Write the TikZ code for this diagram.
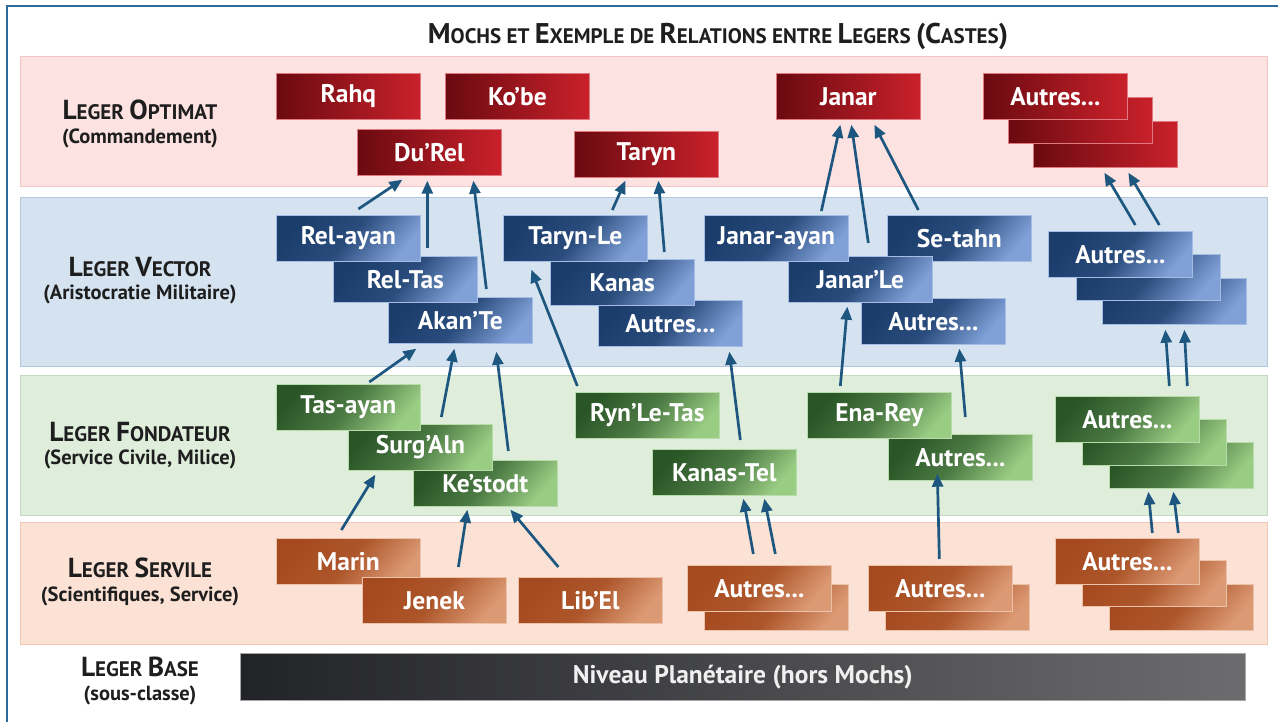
\documentclass[tikz,border=0pt]{standalone}
\usepackage{fontspec}
\setmainfont{PT Sans}
\usetikzlibrary{arrows.meta,calc}
\definecolor{framec}{HTML}{2B6A9B}
\definecolor{pinkband}{HTML}{FDE2E2}
\definecolor{pinkedge}{HTML}{F2C6C6}
\definecolor{blueband}{HTML}{D5E3F0}
\definecolor{blueedge}{HTML}{B3C8DF}
\definecolor{greenband}{HTML}{DFEDDB}
\definecolor{greenedge}{HTML}{C3DBBE}
\definecolor{peachband}{HTML}{FCE2D4}
\definecolor{peachedge}{HTML}{EFC9B6}
\definecolor{rdark}{HTML}{6A0A10}
\definecolor{rlight}{HTML}{CA212B}
\definecolor{bdark}{HTML}{1B3D6C}
\definecolor{blight}{HTML}{7FA1D8}
\definecolor{gdark}{HTML}{2A5627}
\definecolor{glight}{HTML}{9ACD84}
\definecolor{odark}{HTML}{A54A1E}
\definecolor{olight}{HTML}{DC9A74}
\definecolor{kdark}{HTML}{222327}
\definecolor{klight}{HTML}{6C6C6E}
\definecolor{arrowc}{HTML}{1D5780}
\definecolor{labelc}{HTML}{1E1E1E}
\newcommand\capsm[2]{{\fontsize{27.5}{27.5}\selectfont #1}{\fontsize{21}{21}\selectfont #2}}
\newcommand\tcapsm[2]{{\fontsize{28.5}{28.5}\selectfont #1}{\fontsize{21}{21}\selectfont #2}}
\newcommand\tsp{{\fontsize{21}{21}\selectfont\ }}
\begin{document}
\begin{tikzpicture}[x=1pt,y=-1pt,
  band/.style={line width=0.8pt},
  box/.style={minimum width=144pt,minimum height=46pt,inner sep=0pt,anchor=north west,
    text=white,font=\bfseries\fontsize{25.5}{25.5}\selectfont,line width=0.7pt},
  redbox/.style={box,draw=rlight!60!white,left color=rdark,right color=rlight},
  bluebox/.style={box,draw=blight!70!white,top color=bdark,bottom color=blight,middle color=bdark!85!blight,shading angle=50},
  greenbox/.style={box,draw=glight!70!white,top color=gdark,bottom color=glight,middle color=gdark!70!glight,shading angle=50},
  orangebox/.style={box,draw=olight!60!white,top color=odark,bottom color=olight,middle color=odark!85!olight,shading angle=50},
  lvl/.style={text=labelc,align=center,font=\bfseries},
  sub/.style={text=labelc,align=center,font=\bfseries\fontsize{20.5}{20.5}\selectfont},
  link/.style={draw=arrowc,line width=2.7pt,-{Triangle[length=13pt,width=11pt]}},
]
\useasboundingbox (0,0) rectangle (1278,722);
\clip (0,0) rectangle (1278,722);
\fill[white] (0,0) rectangle (1278,722);
\draw[framec,line width=2pt] (7,6) rectangle (1300,740);

% bands
\draw[band,fill=pinkband,draw=pinkedge] (20,56) rectangle (1267,186);
\draw[band,fill=blueband,draw=blueedge] (20,197) rectangle (1267,366);
\draw[band,fill=greenband,draw=greenedge] (20,375) rectangle (1267,515);
\draw[band,fill=peachband,draw=peachedge] (20,522) rectangle (1267,644);

% title
\node[text=labelc,font=\bfseries] (title) at (718,36) {\tcapsm{M}{OCHS ET}\tsp\tcapsm{E}{XEMPLE DE}\tsp\tcapsm{R}{ELATIONS ENTRE}\tsp\tcapsm{L}{EGERS}\tsp\tcapsm{(C}{ASTES}{\fontsize{28.5}{28.5}\selectfont)}};

% level labels
\node[lvl] (l1) at (140,110) {\capsm{L}{EGER}\tsp\capsm{O}{PTIMAT}};
\node[sub] (l1s) at (140,138) {(Commandement)};
\node[lvl] (l2) at (140,267) {\capsm{L}{EGER}\tsp\capsm{V}{ECTOR}};
\node[sub] (l2s) at (140,294) {(Aristocratie Militaire)};
\node[lvl] (l3) at (140,432) {\capsm{L}{EGER}\tsp\capsm{F}{ONDATEUR}};
\node[sub] (l3s) at (140,459) {(Service Civile, Milice)};
\node[lvl] (l4) at (140,568) {\capsm{L}{EGER}\tsp\capsm{S}{ERVILE}};
\node[sub] (l4s) at (140,596) {(Scientifiques, Service)};
\node[lvl] (l5) at (140,667) {\capsm{L}{EGER}\tsp\capsm{B}{ASE}};
\node[sub] (l5s) at (140,695) {(sous-classe)};

% base bar
\node[box,minimum width=1005pt,minimum height=47pt,left color=kdark,right color=klight,draw=klight!60!white,text=white!94!black] (base) at (240,653) {Niveau Planétaire (hors Mochs)};

% red boxes
\node[redbox] (rahq) at (276,73) {Rahq};
\node[redbox] (kobe) at (445,73) {Ko'be};
\node[redbox] (durel) at (357,129) {Du'Rel};
\node[redbox] (taryn) at (574,131) {Taryn};
\node[redbox] (janar) at (776,73) {Janar};
\node[redbox] (rA3) at (1033,121) {};
\node[redbox] (rA2) at (1008,97) {};
\node[redbox] (rA1) at (983,73) {Autres...};

% blue boxes
\node[bluebox] (akante) at (388,297) {Akan'Te};
\node[bluebox] (reltas) at (333,256) {Rel-Tas};
\node[bluebox] (relayan) at (276,215) {Rel-ayan};
\node[bluebox] (bA1) at (598,300) {Autres...};
\node[bluebox] (kanas) at (550,259) {Kanas};
\node[bluebox] (tarynle) at (503,215) {Taryn-Le};
\node[bluebox] (bA2) at (861,298) {Autres...};
\node[bluebox] (setahn) at (887,215) {Se-tahn};
\node[bluebox] (janarle) at (788,256) {Janar'Le};
\node[bluebox] (janarayan) at (704,215) {Janar-ayan};
\node[bluebox] (bS3) at (1102,278) {};
\node[bluebox] (bS2) at (1076,254) {};
\node[bluebox] (bS1) at (1048,231) {Autres...};

% green boxes
\node[greenbox] (kestodt) at (413,460) {Ke'stodt};
\node[greenbox] (surgaln) at (348,424) {Surg'Aln};
\node[greenbox] (tasayan) at (276,384) {Tas-ayan};
\node[greenbox] (rynletas) at (575,392) {Ryn'Le-Tas};
\node[greenbox] (kanastel) at (652,449) {Kanas-Tel};
\node[greenbox] (gA) at (888,434) {Autres...};
\node[greenbox] (enarey) at (807,392) {Ena-Rey};
\node[greenbox] (gS3) at (1109,442) {};
\node[greenbox] (gS2) at (1082,419) {};
\node[greenbox] (gS1) at (1055,396) {Autres...};

% orange boxes
\node[orangebox] (marin) at (276,538) {Marin};
\node[orangebox] (jenek) at (362,577) {Jenek};
\node[orangebox] (libel) at (518,577) {Lib'El};
\node[orangebox] (oP1b) at (704,584) {};
\node[orangebox] (oP1a) at (687,565) {Autres...};
\node[orangebox] (oP2b) at (885,584) {};
\node[orangebox] (oP2a) at (868,565) {Autres...};
\node[orangebox] (oS3) at (1109,584) {};
\node[orangebox] (oS2) at (1082,560) {};
\node[orangebox] (oS1) at (1055,538) {Autres...};

% arrows
\draw[link] ([xshift=10pt,yshift=6pt]relayan.north) -- ([xshift=-27pt,yshift=-4pt]durel.south);
\draw[link] ([xshift=22pt,yshift=8pt]reltas.north) -- ([xshift=-2pt,yshift=-5pt]durel.south);
\draw[link] ([xshift=26pt,yshift=8pt]akante.north) -- ([xshift=44pt,yshift=-5pt]durel.south);
\draw[link] ([xshift=37pt,yshift=5pt]tarynle.north) -- ([xshift=-21pt,yshift=-3pt]taryn.south);
\draw[link] ([xshift=42pt,yshift=7pt]kanas.north) -- ([xshift=12pt,yshift=-3pt]taryn.south);
\draw[link] ([xshift=45pt,yshift=4pt]janarayan.north) -- ([xshift=-8pt,yshift=-5pt]janar.south);
\draw[link] ([xshift=8pt,yshift=13pt]janarle.north) -- ([xshift=3pt,yshift=-5pt]janar.south);
\draw[link] ([xshift=-41pt,yshift=5pt]setahn.north) -- ([xshift=26pt,yshift=-5pt]janar.south);
\draw[link] ([xshift=15pt,yshift=6pt]bS1.north) -- ([xshift=-1pt,yshift=-5pt]rA3.south);
\draw[link] ([xshift=39pt,yshift=6pt]bS1.north) -- ([xshift=23pt,yshift=-5pt]rA3.south);
\draw[link] ([xshift=42pt,yshift=10pt]gS1.north) -- ([xshift=-9pt,yshift=-5pt]bS3.south);
\draw[link] ([xshift=60pt,yshift=10pt]gS1.north) -- ([xshift=10pt,yshift=-5pt]bS3.south);
\draw[link] ([xshift=-39pt,yshift=6pt]enarey.north) -- ([xshift=-13pt,yshift=-4pt]janarle.south);
\draw[link] ([xshift=5pt,yshift=17pt]gA.north) -- ([xshift=26pt,yshift=-4pt]bA2.south);
\draw[link] ([xshift=16pt,yshift=9pt]kanastel.north) -- ([xshift=59pt,yshift=-5pt]bA1.south);
\draw[link] ([xshift=-70pt,yshift=6pt]rynletas.north) -- ([xshift=-44pt,yshift=-8pt]tarynle.south);
\draw[link] ([xshift=21pt,yshift=2pt]tasayan.north) -- ([xshift=-44pt,yshift=-5pt]akante.south);
\draw[link] ([xshift=21pt,yshift=7pt]surgaln.north) -- ([xshift=-6pt,yshift=-5pt]akante.south);
\draw[link] ([xshift=23pt,yshift=9pt]kestodt.north) -- ([xshift=36pt,yshift=-8pt]akante.south);
\draw[link] ([xshift=-7pt,yshift=8pt]marin.north) -- ([xshift=-45pt,yshift=-4pt]surgaln.south);
\draw[link] ([xshift=24pt,yshift=10pt]jenek.north) -- ([xshift=-18pt,yshift=-3pt]kestodt.south);
\draw[link] ([xshift=-32pt,yshift=10pt]libel.north) -- ([xshift=25pt,yshift=-3pt]kestodt.south);
\draw[link] ([xshift=-6pt,yshift=11pt]oP1a.north) -- ([xshift=19pt,yshift=-3pt]kanastel.south);
\draw[link] ([xshift=16pt,yshift=11pt]oP1a.north) -- ([xshift=40pt,yshift=-3pt]kanastel.south);
\draw[link] ([xshift=-1pt,yshift=6pt]oP2a.north) -- ([xshift=-23pt,yshift=7pt]gA.south);
\draw[link] ([xshift=25pt,yshift=5pt]oS1.north) -- ([xshift=-33pt,yshift=-3pt]gS3.south);
\draw[link] ([xshift=51pt,yshift=5pt]oS1.north) -- ([xshift=-8pt,yshift=-3pt]gS3.south);
\end{tikzpicture}
\end{document}
